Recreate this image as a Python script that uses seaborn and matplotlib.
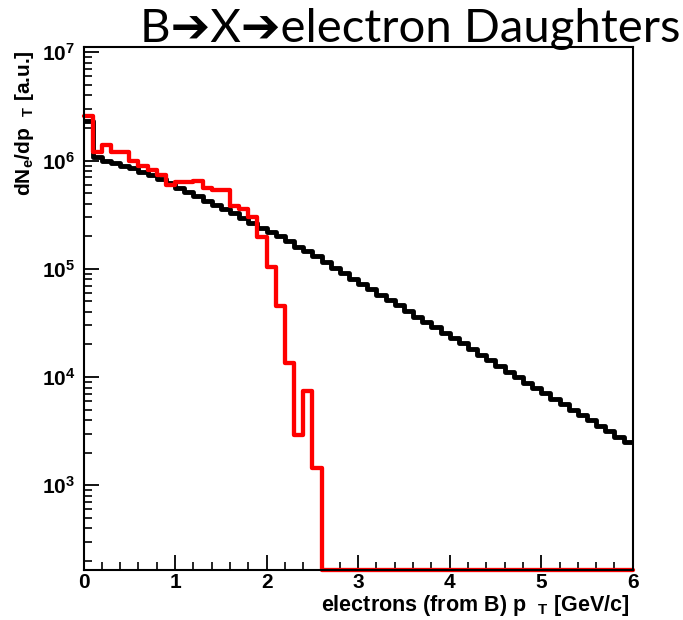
import numpy as np
import pandas as pd
import matplotlib
matplotlib.use("Agg")
import matplotlib.pyplot as plt
import seaborn as sns
from matplotlib.ticker import FixedLocator, LogLocator, NullFormatter, MultipleLocator

# ---------------- data ----------------
BIN_WIDTH = 0.1
PT_MIN, PT_MAX = 0.0, 6.0

# black: all electrons from B (a.u.)
black_counts = [2.3e6, 1.07e6, 1.0e6, 9.55e5, 8.9e5, 8.5e5, 7.9e5, 7.4e5, 6.8e5, 6.2e5,
                5.6e5, 5.1e5, 4.7e5, 4.25e5, 3.9e5, 3.55e5, 3.25e5, 2.95e5, 2.65e5, 2.4e5,
                2.2e5, 2.0e5, 1.8e5, 1.6e5, 1.45e5, 1.3e5, 1.15e5, 1.02e5, 9.1e4, 8.1e4,
                7.2e4, 6.5e4, 5.75e4, 5.1e4, 4.6e4, 4.1e4, 3.6e4, 3.25e4, 2.9e4, 2.55e4,
                2.3e4, 2.05e4, 1.8e4, 1.6e4, 1.45e4, 1.26e4, 1.12e4, 1.0e4, 8.9e3, 7.9e3,
                7.1e3, 6.3e3, 5.6e3, 5.0e3, 4.5e3, 4.0e3, 3.55e3, 3.15e3, 2.8e3, 2.5e3]

# red: B -> X -> electron daughters (a.u.)
red_counts = [2.6e6, 1.2e6, 1.4e6, 1.2e6, 1.2e6, 1.0e6, 8.9e5, 8.1e5, 7.3e5, 5.9e5,
              6.3e5, 6.3e5, 6.5e5, 5.6e5, 5.3e5, 5.3e5, 3.8e5, 3.55e5, 3.0e5, 1.95e5,
              1.05e5, 4.5e4, 1.35e4, 2.9e3, 7.4e3, 1.45e3, 0, 0, 0, 0,
              0, 0, 0, 0, 0, 0, 0, 0, 0, 0,
              0, 0, 0, 0, 0, 0, 0, 0, 0, 0,
              0, 0, 0, 0, 0, 0, 0, 0, 0, 0]

x_ticks = [0, 1, 2, 3, 4, 5, 6]
title_text = "B\u2794X\u2794electron Daughters"
xlabel_text = r"electrons (from B) p  $_{T}$ [GeV/c]"
ylabel_text = r"dN$_{e}$/dp  $_{T}$ [a.u.]"

# ---------------- plot ----------------
sns.set_theme(style="white")
plt.rcParams["font.family"] = ["Liberation Sans", "DejaVu Sans"]
plt.rcParams["font.weight"] = "bold"
plt.rcParams["mathtext.default"] = "regular"
plt.rcParams["text.color"] = "black"

Y_MIN, Y_MAX = 165, 1.12e7

n_bins = len(black_counts)
centers = PT_MIN + BIN_WIDTH * (np.arange(n_bins) + 0.5)
df = pd.DataFrame({"pt": centers, "black": black_counts, "red": red_counts})
df["red_draw"] = df["red"].clip(lower=Y_MIN)

fig = plt.figure(figsize=(6.83, 6.2), dpi=100)
ax = fig.add_axes([0.1223, 0.0806, 0.8041, 0.8436])

sns.histplot(data=df, x="pt", weights="black", binwidth=BIN_WIDTH,
             binrange=(PT_MIN, PT_MAX), element="step",
             fill=False, color="black", linewidth=3.5, ax=ax)
sns.histplot(data=df, x="pt", weights="red_draw", binwidth=BIN_WIDTH,
             binrange=(PT_MIN, PT_MAX), element="step",
             fill=False, color="#ff0000", linewidth=3.1, ax=ax, clip_on=False)

ax.set_yscale("log")
ax.set_xlim(PT_MIN, PT_MAX)
ax.set_ylim(Y_MIN, Y_MAX)
ax.set_xlabel("")
ax.set_ylabel("")

ax.xaxis.set_major_locator(FixedLocator(x_ticks))
ax.xaxis.set_minor_locator(MultipleLocator(0.2))
ax.yaxis.set_major_locator(LogLocator(base=10))
ax.yaxis.set_minor_locator(LogLocator(base=10, subs=np.arange(2, 10)))
ax.yaxis.set_minor_formatter(NullFormatter())

ax.tick_params(axis="both", which="major", direction="in", length=11, width=1.3,
               labelsize=15, color="black", labelcolor="black",
               bottom=True, left=True, top=False, right=False)
ax.tick_params(axis="both", which="minor", direction="in", length=6, width=1.2,
               color="black", bottom=True, left=True, top=False, right=False)
ax.tick_params(axis="x", which="major", pad=2)
ax.tick_params(axis="y", which="major", pad=6)

for sp in ax.spines.values():
    sp.set_visible(True)
    sp.set_color("black")
    sp.set_linewidth(1.5)

fig.text(629 / 683, 1 - 605 / 620, xlabel_text, ha="right", va="center",
         fontsize=15.5, fontweight="bold", color="black")
fig.text(25 / 683, 1 - 50 / 620, ylabel_text, ha="center", va="top",
         rotation=90, fontsize=15, fontweight="bold", color="black")
fig.text(0.997, 1 - 42 / 620, title_text, ha="right", va="baseline",
         fontsize=34, fontweight="normal", color="black",
         family=["Lato", "DejaVu Sans"])

fig.savefig("out.png", dpi=100, facecolor="white")
